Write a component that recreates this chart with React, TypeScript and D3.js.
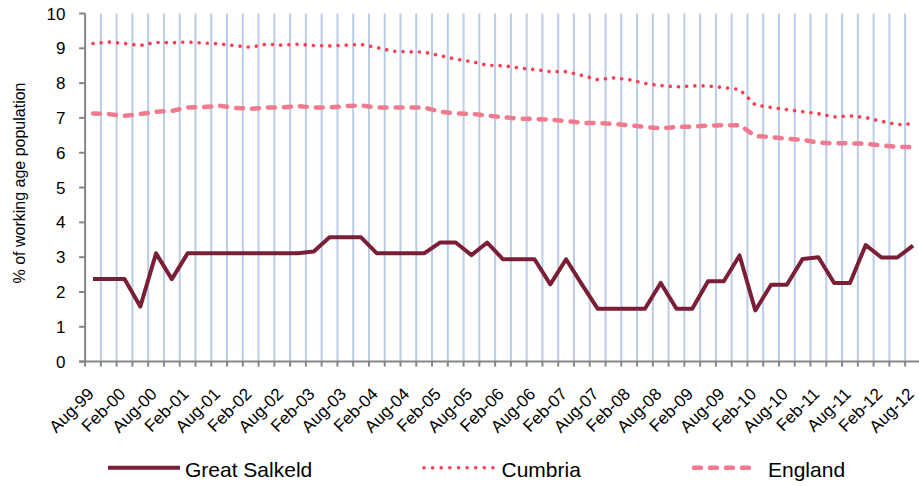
import React from "react";
import * as d3 from "d3";

const categories = [
  "Aug-99","Nov-99","Feb-00","May-00","Aug-00","Nov-00","Feb-01","May-01","Aug-01","Nov-01",
  "Feb-02","May-02","Aug-02","Nov-02","Feb-03","May-03","Aug-03","Nov-03","Feb-04","May-04",
  "Aug-04","Nov-04","Feb-05","May-05","Aug-05","Nov-05","Feb-06","May-06","Aug-06","Nov-06",
  "Feb-07","May-07","Aug-07","Nov-07","Feb-08","May-08","Aug-08","Nov-08","Feb-09","May-09",
  "Aug-09","Nov-09","Feb-10","May-10","Aug-10","Nov-10","Feb-11","May-11","Aug-11","Nov-11",
  "Feb-12","May-12","Aug-12",
];

const greatSalkeld = [
  2.37, 2.37, 2.37, 1.58, 3.11, 2.37, 3.11, 3.11, 3.11, 3.11,
  3.11, 3.11, 3.11, 3.11, 3.16, 3.57, 3.57, 3.57, 3.11, 3.11,
  3.11, 3.11, 3.42, 3.42, 3.06, 3.42, 2.94, 2.94, 2.94, 2.22,
  2.94, 2.22, 1.52, 1.52, 1.52, 1.52, 2.26, 1.52, 1.52, 2.31,
  2.31, 3.05, 1.47, 2.21, 2.21, 2.95, 3.0, 2.26, 2.26, 3.35,
  2.99, 2.99, 3.33,
];

const cumbria = [
  9.14, 9.18, 9.14, 9.08, 9.17, 9.16, 9.18, 9.15, 9.13, 9.08,
  9.03, 9.12, 9.09, 9.12, 9.08, 9.07, 9.09, 9.11, 9.02, 8.92,
  8.9, 8.89, 8.79, 8.69, 8.62, 8.51, 8.5, 8.44, 8.39, 8.33,
  8.33, 8.22, 8.1, 8.15, 8.1, 7.99, 7.93, 7.89, 7.92, 7.92,
  7.87, 7.82, 7.37, 7.3, 7.24, 7.18, 7.12, 7.03, 7.06, 7.01,
  6.9, 6.81, 6.83,
];

const england = [
  7.13, 7.11, 7.06, 7.11, 7.18, 7.2, 7.3, 7.31, 7.35, 7.29,
  7.26, 7.3, 7.3, 7.34, 7.3, 7.3, 7.34, 7.36, 7.3, 7.3,
  7.3, 7.3, 7.18, 7.13, 7.12, 7.07, 7.02, 6.98, 6.97, 6.95,
  6.91, 6.86, 6.85, 6.83, 6.79, 6.74, 6.7, 6.74, 6.75, 6.78,
  6.79, 6.79, 6.48, 6.45, 6.4, 6.37, 6.29, 6.27, 6.27, 6.26,
  6.21, 6.17, 6.16,
];

const yTicks = [0, 1, 2, 3, 4, 5, 6, 7, 8, 9, 10];
const yLabel = "% of working age population";
const seriesNames = ["Great Salkeld", "Cumbria", "England"];

const FONT = "'Liberation Sans', Arial, Helvetica, sans-serif";

export default function App() {
  const W = 919, H = 486;
  const left = 85.1, band = 15.77;
  const top = 13.5, bottom = 361.6;

  const x = d3.scaleBand<string>().domain(categories).range([left, left + band * categories.length]).paddingInner(0).paddingOuter(0);
  const y = d3.scaleLinear().domain([0, 10]).range([bottom, top]);
  const cx = (i: number) => (x(categories[i]) as number) + x.bandwidth() / 2;

  const line = d3.line<number>().x((_, i) => cx(i)).y((v) => y(v)).curve(d3.curveLinear);

  const boundaries = categories.map((c) => x(c) as number).concat([left + band * categories.length]);

  const colors = {
    gs: "#7A1F36",
    cu: "#FF3B4F",
    en: "#F07A8E",
  };

  return (
    <svg width={W} height={H} style={{ position: "absolute", left: 0, top: 0, background: "#fff", display: "block" }} fontFamily={FONT}>
      <rect x={0} y={0} width={W} height={H} fill="#fff" />
      {/* vertical gridlines */}
      {boundaries.slice(1).map((bx, i) => (
        <line key={"g" + i} x1={bx} x2={bx} y1={top} y2={bottom} stroke="#B9CDE5" strokeWidth={2} />
      ))}
      {/* axes */}
      <line x1={left} x2={left} y1={top} y2={bottom} stroke="#868686" strokeWidth={2} />
      <line x1={left - 6} x2={W + 5} y1={bottom} y2={bottom} stroke="#868686" strokeWidth={2} />
      {yTicks.map((t) => (
        <g key={"yt" + t}>
          <line x1={left - 6} x2={left} y1={y(t)} y2={y(t)} stroke="#868686" strokeWidth={2} />
          <text x={65.5} y={y(t)} dy="0.36em" textAnchor="end" fontSize={17} fill="#000">{t}</text>
        </g>
      ))}
      {boundaries.map((bx, i) => (
        <line key={"xt" + i} x1={bx} x2={bx} y1={bottom} y2={bottom + 5} stroke="#868686" strokeWidth={2} />
      ))}
      {categories.map((c, i) =>
        i % 2 === 0 ? (
          <text key={"xl" + i} transform={`translate(${cx(i) + 2},${395}) rotate(-45)`} textAnchor="end" fontSize={17} fill="#000">{c}</text>
        ) : null
      )}
      <text transform={`translate(24.5,${183}) rotate(-90)`} textAnchor="middle" fontSize={16} fill="#000">{yLabel}</text>

      {/* series */}
      <path d={line(england) || ""} fill="none" stroke={colors.en} strokeWidth={4.5} strokeDasharray="7 9" strokeLinecap="round" strokeLinejoin="round" />
      <path d={line(cumbria) || ""} fill="none" stroke={colors.cu} strokeWidth={3.6} strokeDasharray="0.01 8.2" strokeLinecap="round" strokeLinejoin="round" />
      <path d={line(greatSalkeld) || ""} fill="none" stroke={colors.gs} strokeWidth={4} strokeLinejoin="round" strokeLinecap="butt" />

      {/* legend */}
      <line x1={108} x2={180} y1={467.7} y2={467.7} stroke={colors.gs} strokeWidth={4} />
      <text x={185} y={476.5} fontSize={21} fill="#000">{seriesNames[0]}</text>
      <line x1={424} x2={494} y1={467.7} y2={467.7} stroke={colors.cu} strokeWidth={3.6} strokeDasharray="0.01 8.6" strokeLinecap="round" />
      <text x={501.5} y={476.5} fontSize={21} fill="#000">{seriesNames[1]}</text>
      <line x1={694} x2={758} y1={467.7} y2={467.7} stroke={colors.en} strokeWidth={4.5} strokeDasharray="7 9" strokeLinecap="round" />
      <text x={768} y={476.5} fontSize={21} fill="#000">{seriesNames[2]}</text>
    </svg>
  );
}
